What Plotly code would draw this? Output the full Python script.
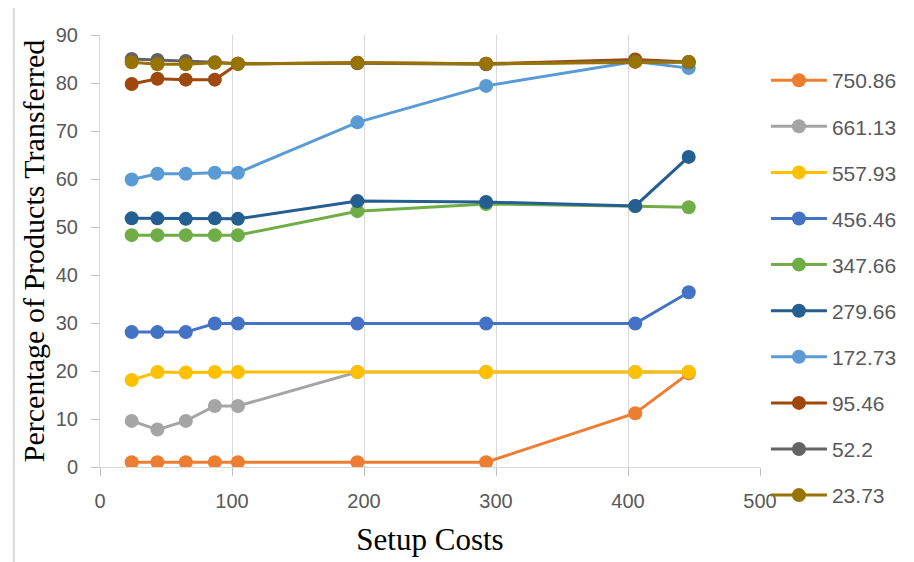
import plotly.graph_objects as go

setup_costs = [24, 43.5, 65, 87, 104.5, 195, 292.5, 405.5, 446]

series_names = ["750.86", "661.13", "557.93", "456.46", "347.66",
                "279.66", "172.73", "95.46", "52.2", "23.73"]

s_750_86 = [1.0, 1.0, 1.0, 1.0, 1.0, 1.0, 1.0, 11.2, 19.5]
s_661_13 = [9.6, 7.8, 9.6, 12.7, 12.7, 19.8, 19.8, 19.8, 19.8]
s_557_93 = [18.1, 19.8, 19.7, 19.8, 19.8, 19.8, 19.8, 19.8, 19.8]
s_456_46 = [28.1, 28.1, 28.1, 29.9, 29.9, 29.9, 29.9, 29.9, 36.4]
s_347_66 = [48.3, 48.3, 48.3, 48.3, 48.3, 53.3, 54.8, 54.3, 54.1]
s_279_66 = [51.8, 51.8, 51.7, 51.8, 51.7, 55.4, 55.2, 54.4, 64.6]
s_172_73 = [59.9, 61.1, 61.1, 61.3, 61.3, 71.8, 79.4, 84.5, 83.1]
s_95_46 = [79.8, 80.9, 80.7, 80.7, 84.0, 84.2, 84.0, 84.9, 84.4]
s_52_2 = [85.0, 84.8, 84.6, 84.3, 84.0, 84.1, 83.9, 84.5, 84.3]
s_23_73 = [84.3, 83.9, 83.9, 84.2, 84.0, 84.2, 84.0, 84.4, 84.4]

values = [s_750_86, s_661_13, s_557_93, s_456_46, s_347_66,
          s_279_66, s_172_73, s_95_46, s_52_2, s_23_73]

colors = ["#ED7D31", "#A5A5A5", "#FFC000", "#4472C4", "#70AD47",
          "#255E91", "#5B9BD5", "#9E480E", "#636363", "#997300"]

x_ticks = [0, 100, 200, 300, 400, 500]
y_ticks = [0, 10, 20, 30, 40, 50, 60, 70, 80, 90]

fig = go.Figure()
for name, vals, col in zip(series_names, values, colors):
    fig.add_trace(go.Scatter(
        x=setup_costs, y=vals, name=name, mode="lines+markers",
        legendgroup=name,
        line=dict(color=col, width=3),
        marker=dict(color=col, size=14),
    ))

tick_font = dict(family="Liberation Sans, Arial, sans-serif", size=20, color="#595959")
axis_col = "#BFBFBF"

fig.update_layout(
    width=906, height=554,
    margin=dict(l=92, r=148, t=27, b=95),
    paper_bgcolor="white", plot_bgcolor="white",
    showlegend=True,
    legend=dict(
        x=1.009, xanchor="left", y=0.942, yanchor="top",
        font=dict(family="Liberation Sans, Arial, sans-serif", size=21, color="#595959"),
        tracegroupgap=15.8, itemwidth=56, bgcolor="rgba(0,0,0,0)",
        maxheight=540,
    ),
    xaxis=dict(
        range=[0, 500], tickvals=x_ticks, ticktext=[str(v) for v in x_ticks],
        showgrid=True, gridcolor="#D9D9D9", gridwidth=1,
        showline=True, linecolor="#D9D9D9", linewidth=1,
        ticks="outside", tickcolor=axis_col, ticklen=8, ticklabelstandoff=8,
        tickfont=tick_font, zeroline=False,
        title=dict(text="Setup Costs", standoff=17,
                   font=dict(family="Liberation Serif, Times New Roman, serif", size=31, color="black")),
    ),
    yaxis=dict(
        range=[0, 90], tickvals=y_ticks, ticktext=[str(v) for v in y_ticks],
        showgrid=False,
        showline=True, linecolor="#D9D9D9", linewidth=1,
        ticks="outside", tickcolor=axis_col, ticklen=8, ticklabelstandoff=9,
        tickfont=tick_font, zeroline=False,
        title=dict(text="Percentage of Products Transferred", standoff=2,
                   font=dict(family="Liberation Serif, Times New Roman, serif", size=30, color="black")),
    ),
    shapes=[dict(type="line", xref="paper", yref="paper",
                 x0=-87 / 666, x1=-87 / 666, y0=-130 / 432, y1=1.1,
                 line=dict(color="#D9D9D9", width=2))],
)

fig.write_html("out.html")
